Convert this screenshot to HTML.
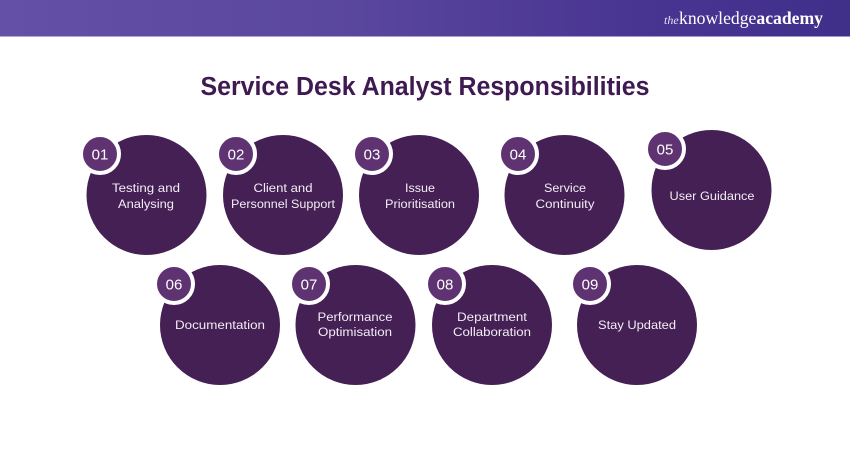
<!DOCTYPE html>
<html lang="en">
<head>
<meta charset="utf-8">
<style>
html,body{margin:0;padding:0;background:#fff;width:850px;height:450px;overflow:hidden}
svg{display:block}
.t{font-family:"Liberation Sans",sans-serif;font-size:12.3px;fill:#f3edf5;text-anchor:middle}
.n{font-family:"Liberation Sans",sans-serif;font-size:15px;fill:#fff;text-anchor:middle}
.c{fill:#452054}
.b{fill:#5f3372;stroke:#fff;stroke-width:4}
</style>
</head>
<body>
<svg width="850" height="450" viewBox="0 0 850 450" xmlns="http://www.w3.org/2000/svg">
<defs>
<linearGradient id="g" x1="0" y1="0" x2="1" y2="0">
<stop offset="0" stop-color="#6450a6"/>
<stop offset="0.4" stop-color="#5a479e"/>
<stop offset="0.75" stop-color="#483592"/>
<stop offset="1" stop-color="#40308a"/>
</linearGradient>
</defs>
<rect width="850" height="450" fill="#fff"/>
<rect width="850" height="36.5" fill="url(#g)"/>
<text x="664" y="24" font-family="Liberation Serif,serif" font-style="italic" font-size="12" fill="#e6e0f2">the</text>
<text x="679" y="24" font-family="Liberation Serif,serif" font-size="17.5" fill="#fff" textLength="144" lengthAdjust="spacingAndGlyphs">knowledge<tspan font-weight="bold">academy</tspan></text>
<text x="425" y="95" font-family="Liberation Sans,sans-serif" font-weight="bold" font-size="25.5" fill="#3f1a52" text-anchor="middle" textLength="449" lengthAdjust="spacingAndGlyphs">Service Desk Analyst Responsibilities</text>

<circle class="c" cx="146.5" cy="195" r="60"/>
<circle class="c" cx="283" cy="195" r="60"/>
<circle class="c" cx="419" cy="195" r="60"/>
<circle class="c" cx="564.500" cy="195" r="60"/>
<circle class="c" cx="711.500" cy="190" r="60"/>
<circle class="c" cx="220" cy="325" r="60"/>
<circle class="c" cx="355.500" cy="325" r="60"/>
<circle class="c" cx="492" cy="325" r="60"/>
<circle class="c" cx="637" cy="325" r="60"/>

<circle class="b" cx="100" cy="154" r="19"/><text class="n" x="100" y="159.500">01</text>
<circle class="b" cx="236" cy="154" r="19"/><text class="n" x="236" y="159.500">02</text>
<circle class="b" cx="372" cy="154" r="19"/><text class="n" x="372" y="159.500">03</text>
<circle class="b" cx="518" cy="154" r="19"/><text class="n" x="518" y="159.500">04</text>
<circle class="b" cx="665" cy="149" r="19"/><text class="n" x="665" y="154.500">05</text>
<circle class="b" cx="174" cy="284" r="19"/><text class="n" x="174" y="289.500">06</text>
<circle class="b" cx="309" cy="284" r="19"/><text class="n" x="309" y="289.500">07</text>
<circle class="b" cx="445" cy="284" r="19"/><text class="n" x="445" y="289.500">08</text>
<circle class="b" cx="590" cy="284" r="19"/><text class="n" x="590" y="289.500">09</text>

<text class="t" x="146" y="192" textLength="68" lengthAdjust="spacingAndGlyphs">Testing and</text>
<text class="t" x="146" y="208" textLength="56" lengthAdjust="spacingAndGlyphs">Analysing</text>
<text class="t" x="283" y="192" textLength="59" lengthAdjust="spacingAndGlyphs">Client and</text>
<text class="t" x="283" y="208" textLength="104" lengthAdjust="spacingAndGlyphs">Personnel Support</text>
<text class="t" x="420" y="192" textLength="30" lengthAdjust="spacingAndGlyphs">Issue</text>
<text class="t" x="420" y="208" textLength="70" lengthAdjust="spacingAndGlyphs">Prioritisation</text>
<text class="t" x="565" y="192" textLength="42" lengthAdjust="spacingAndGlyphs">Service</text>
<text class="t" x="565" y="208" textLength="59" lengthAdjust="spacingAndGlyphs">Continuity</text>
<text class="t" x="712" y="200" textLength="85" lengthAdjust="spacingAndGlyphs">User Guidance</text>
<text class="t" x="220" y="329" textLength="90" lengthAdjust="spacingAndGlyphs">Documentation</text>
<text class="t" x="355" y="321" textLength="75" lengthAdjust="spacingAndGlyphs">Performance</text>
<text class="t" x="355" y="336" textLength="74" lengthAdjust="spacingAndGlyphs">Optimisation</text>
<text class="t" x="492" y="321" textLength="70" lengthAdjust="spacingAndGlyphs">Department</text>
<text class="t" x="492" y="336" textLength="78" lengthAdjust="spacingAndGlyphs">Collaboration</text>
<text class="t" x="637" y="329" textLength="78" lengthAdjust="spacingAndGlyphs">Stay Updated</text>
</svg>
</body>
</html>
